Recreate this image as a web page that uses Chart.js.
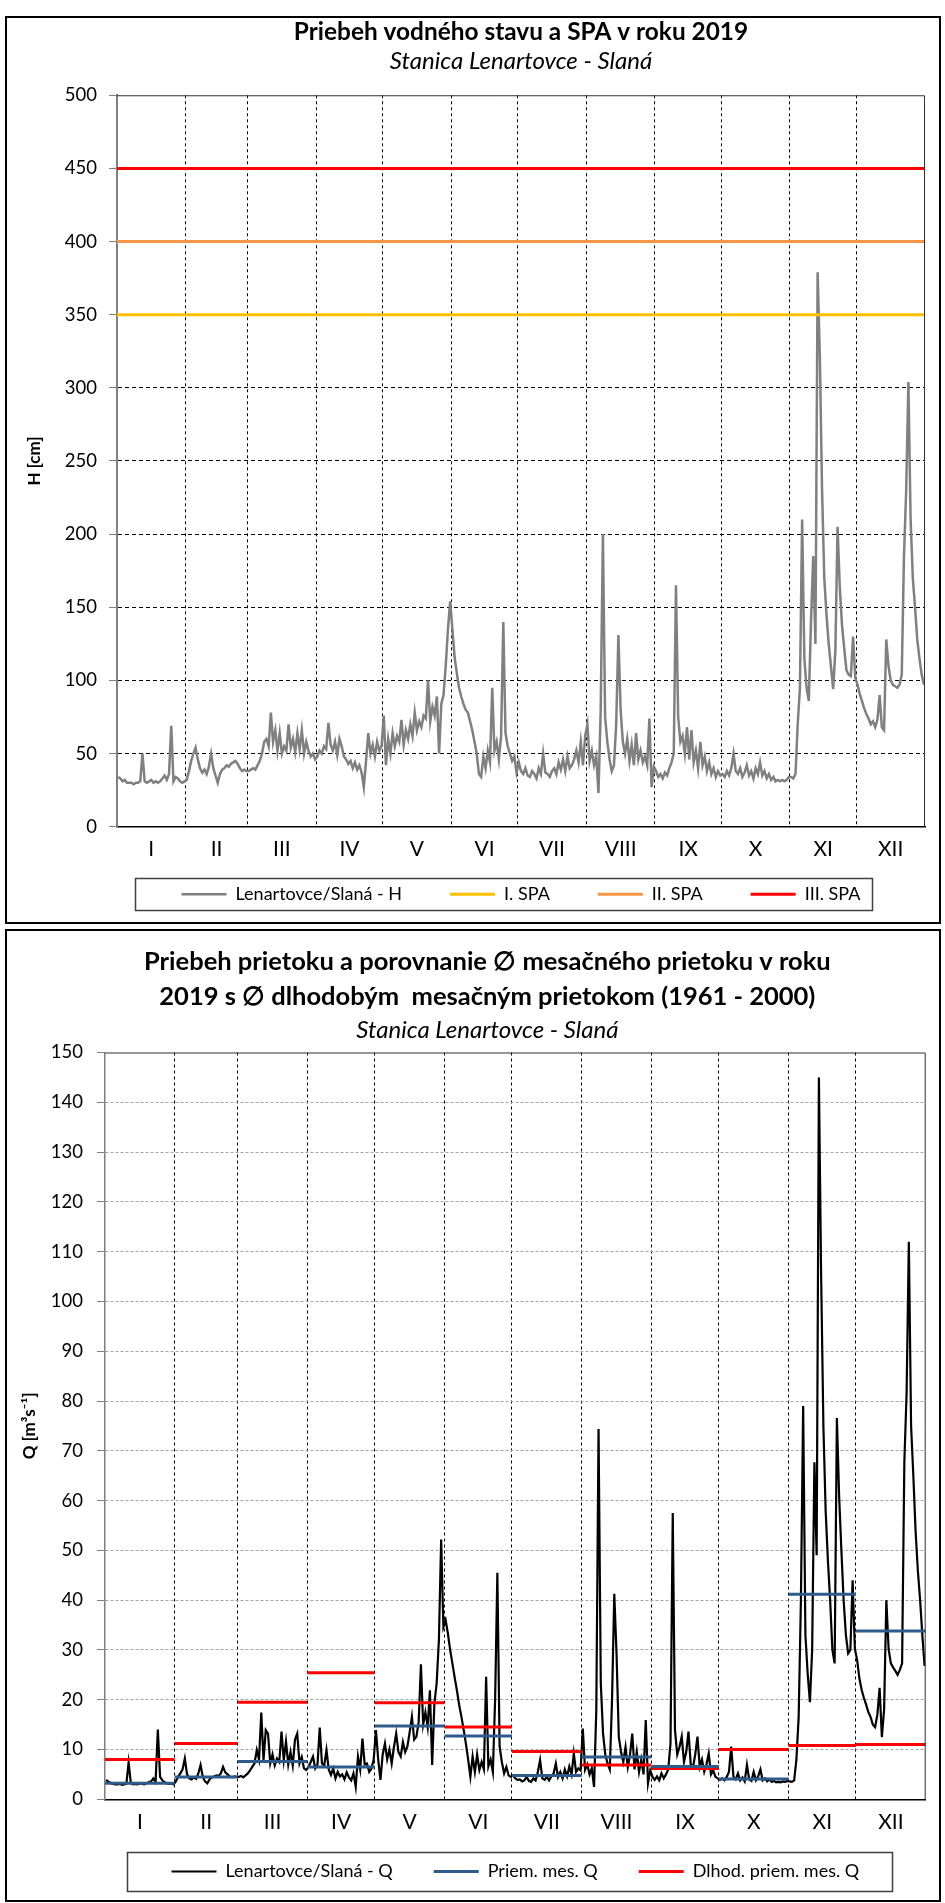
<!DOCTYPE html>
<html lang="sk">
<head>
<meta charset="utf-8">
<title>Lenartovce - Slaná 2019</title>
<script src="https://cdn.jsdelivr.net/npm/chart.js@4.4.1/dist/chart.umd.min.js"></script>
<style>
  body { margin: 0; background: #fff; }
  .box { position: absolute; left: 5px; width: 932px; border: 2px solid #000; background: #fff; }
  #box1 { top: 16px; height: 904px; }
  #box2 { top: 929px; height: 969px; }
  canvas { display: block; }
</style>
</head>
<body>
<div class="box" id="box1"><canvas id="levelChart" width="932" height="904"></canvas></div>
<div class="box" id="box2"><canvas id="flowChart" width="932" height="969"></canvas></div>
<script>
const monthLabels = ["I", "II", "III", "IV", "V", "VI", "VII", "VIII", "IX", "X", "XI", "XII"];
const monthDays = [31, 28, 31, 30, 31, 30, 31, 31, 30, 31, 30, 31];

// vodny stav H [cm], denne hodnoty 2019
const hLevel = [
  34, 33, 31, 32, 30, 30, 30, 29, 30, 30, 31, 50, 31, 30, 31, 32, 30, 31, 30, 31, 33, 35, 32, 36, 69, 31, 34, 33, 31, 30, 31,
  32, 38, 45, 50, 54, 46, 40, 37, 39, 36, 41, 50, 40, 35, 30, 36, 39, 40, 42, 41, 43, 44, 45, 43, 40, 38, 39, 38,
  38, 39, 40, 39, 42, 45, 50, 58, 60, 55, 78, 58, 66, 52, 64, 50, 55, 52, 70, 54, 60, 51, 64, 53, 66, 50, 58, 52, 48, 50, 46,
  48, 52, 50, 55, 53, 71, 56, 52, 58, 49, 60, 55, 48, 46, 43, 45, 40, 44, 39, 42, 37, 27, 45, 64, 50, 56, 48, 58, 52, 55,
  76, 42, 60, 50, 64, 55, 62, 58, 73, 56, 66, 60, 70, 62, 78, 66, 72, 68, 76, 74, 100, 72, 82, 76, 89, 50, 84, 90, 110, 135, 154,
  135, 116, 105, 95, 89, 84, 80, 78, 72, 66, 58, 50, 36, 34, 48, 40, 52, 44, 95, 52, 58, 46, 62, 140, 64, 55, 50, 45, 48, 37,
  44, 38, 36, 40, 35, 34, 38, 36, 33, 40, 36, 50, 37, 36, 34, 38, 40, 36, 44, 39, 46, 38, 48, 40, 42, 46, 52, 44, 58, 42, 62,
  70, 45, 52, 42, 48, 23, 80, 200, 75, 58, 46, 38, 42, 70, 131, 80, 58, 50, 60, 45, 56, 42, 64, 46, 52, 44, 48, 42, 74, 27, 41,
  38, 34, 36, 33, 37, 35, 40, 44, 50, 165, 75, 58, 62, 50, 68, 46, 66, 44, 52, 40, 58, 42, 48, 38, 44, 36, 40, 34, 38, 35,
  36, 34, 38, 35, 40, 50, 38, 36, 40, 34, 37, 42, 35, 38, 33, 40, 36, 44, 35, 38, 33, 36, 32, 34, 31, 32, 31, 32, 31, 32, 34,
  34, 33, 36, 70, 95, 210, 115, 95, 86, 140, 185, 125, 379, 321, 230, 170, 145, 125, 110, 94, 120, 205, 164, 138, 122, 107, 104, 103, 130, 102,
  97, 91, 86, 81, 77, 74, 70, 72, 68, 73, 90, 68, 66, 128, 110, 100, 97, 96, 95, 97, 104, 185, 230, 304, 210, 170, 150, 128, 115, 104, 97
];

// prietok Q [m3/s], denne hodnoty 2019
const qFlow = [
  3.9, 3.5, 3.3, 3.1, 3.0, 3.0, 3.1, 2.9, 3.0, 3.1, 7.4, 3.2, 3.0, 3.1, 3.0, 3.2, 3.1, 3.0, 3.2, 3.4, 3.6, 4.2, 3.5, 14.0, 4.5, 3.8, 3.4, 3.2, 3.1, 3.2, 3.0,
  3.6, 4.5, 5.2, 6.0, 8.2, 5.0, 4.2, 4.0, 4.4, 4.1, 5.2, 6.9, 4.5, 3.6, 3.2, 4.0, 4.4, 4.6, 4.8, 4.7, 5.2, 6.5, 5.4, 5.0, 4.6, 4.4, 4.6, 4.5,
  4.5, 4.7, 4.4, 4.8, 5.2, 5.8, 6.5, 7.2, 9.9, 8.0, 17.4, 7.9, 13.9, 13.2, 7.2, 9.0, 6.8, 8.2, 7.5, 13.6, 7.9, 11.6, 7.0, 9.5, 6.8, 12.0, 13.2, 7.2, 8.5, 6.2, 5.9,
  6.5, 7.5, 8.6, 6.2, 7.0, 14.4, 7.2, 6.8, 9.9, 6.0, 4.9, 6.2, 4.2, 5.5, 4.6, 5.0, 4.0, 5.4, 4.4, 3.8, 5.2, 2.5, 8.6, 6.0, 12.2, 7.0, 7.2, 5.5, 6.2, 8.0,
  13.9, 8.0, 3.9, 9.0, 11.2, 8.0, 10.0, 7.2, 10.5, 13.2, 9.5, 8.6, 11.5, 9.5, 10.6, 13.5, 16.6, 12.0, 12.6, 15.5, 27.1, 15.0, 17.5, 14.5, 21.9, 6.9, 19.3, 23.3, 32.0, 52.2, 34.6,
  36.0, 33.3, 30.0, 27.3, 24.5, 21.9, 19.0, 16.6, 14.0, 11.2, 8.0, 4.5, 8.6, 5.5, 9.0, 5.9, 7.5, 6.0, 24.6, 6.6, 8.0, 5.5, 20.0, 45.5, 10.6, 7.5, 5.2, 6.5, 4.8, 4.5,
  4.8, 4.2, 3.9, 4.0, 3.6, 3.8, 4.5, 3.7, 3.5, 4.2, 3.8, 5.5, 7.9, 4.2, 3.9, 4.5, 3.8, 4.6, 5.2, 7.2, 4.5, 5.5, 4.2, 6.0, 4.6, 6.6, 5.0, 9.2, 5.5, 6.2, 5.8,
  14.2, 5.9, 7.0, 5.0, 6.2, 2.5, 17.9, 74.4, 23.3, 13.2, 9.0, 7.2, 6.0, 20.0, 41.3, 29.3, 12.6, 9.5, 7.5, 10.5, 6.5, 9.0, 13.2, 6.0, 9.5, 5.5, 8.0, 5.0, 15.9, 3.2, 5.8,
  4.5, 3.9, 4.6, 3.8, 5.2, 4.2, 5.0, 6.0, 11.2, 57.5, 13.9, 9.0, 10.5, 12.6, 7.5, 9.5, 13.6, 7.0, 6.4, 9.0, 12.6, 6.5, 8.0, 5.5, 7.0, 9.2, 5.0, 5.8, 4.5, 4.2,
  3.9, 4.2, 3.8, 4.5, 5.5, 10.6, 4.5, 4.0, 5.2, 3.8, 4.4, 3.6, 6.9, 4.0, 3.7, 5.5, 3.8, 4.6, 6.0, 3.8, 4.2, 3.6, 4.0, 3.5, 3.7, 3.4, 3.5, 3.4, 3.6, 3.5, 3.7,
  3.6, 3.5, 3.8, 8.0, 16.5, 40.0, 79.0, 33.0, 25.3, 19.5, 30.0, 67.7, 49.0, 145.0, 105.0, 75.0, 58.0, 48.0, 40.0, 30.0, 27.3, 76.6, 60.8, 50.0, 40.0, 33.0, 29.3, 30.0, 44.0, 30.2,
  28.0, 24.3, 22.0, 20.4, 19.0, 17.5, 16.5, 15.0, 14.5, 17.0, 22.4, 12.5, 18.0, 40.0, 30.2, 27.3, 26.5, 25.8, 25.0, 26.0, 27.3, 67.7, 81.5, 112.0, 75.0, 65.0, 53.9, 46.0, 40.1, 33.0, 26.8
];

const spaNames = ["I. SPA", "II. SPA", "III. SPA"];
const spaLevels = [350, 400, 450];

// priemerny mesacny prietok 2019 a dlhodoby priemer 1961 - 2000
const qMonthMean = [3.2, 4.5, 7.6, 6.5, 14.7, 12.7, 4.8, 8.5, 6.6, 4.1, 41.2, 33.8];
const qLongMean = [8.0, 11.2, 19.5, 25.4, 19.4, 14.5, 9.6, 6.9, 6.2, 10.0, 10.8, 11.0];

const FONT = "Lato, 'Open Sans', sans-serif";
Chart.defaults.font.family = FONT;
Chart.defaults.color = "#000";

const monthStart = [];
let yearDays = 0;
monthDays.forEach(d => { monthStart.push(yearDays); yearDays += d; });
const monthMid = monthStart.map((s, i) => s + monthDays[i] / 2);
const boundaries = monthStart.concat([yearDays]);
const tickDays = boundaries.concat(monthMid).sort((a, b) => a - b);

function daily(values) {
  return values.map((v, i) => ({ x: i + 0.5, y: v }));
}
function monthSteps(values) {
  let pts = [];
  values.forEach((v, i) => {
    let end = monthStart[i] + monthDays[i];
    pts.push({ x: monthStart[i], y: v }, { x: end, y: v }, { x: end, y: null });
  });
  return pts;
}

const clear = "rgba(0,0,0,0)";

function monthAxis(pad) {
  return {
    type: "linear",
    min: 0,
    max: yearDays,
    afterBuildTicks: s => { s.ticks = tickDays.map(v => ({ value: v })); },
    afterFit: s => { s.height = 40; },
    ticks: {
      autoSkip: false, maxRotation: 0, padding: pad,
      font: { size: 21 },
      callback: v => { let i = monthMid.indexOf(v); return i < 0 ? "" : monthLabels[i]; }
    },
    grid: {
      drawTicks: false, lineWidth: 1,
      color: c => (c.tick && c.tick.value > 0 && c.tick.value < yearDays && boundaries.indexOf(c.tick.value) >= 0) ? "#000" : clear
    },
    border: { color: "#000", width: 1.5, dash: [3, 3] }
  };
}

const plotFrame = {
  id: "plotFrame",
  afterDatasetsDraw(chart) {
    const a = chart.chartArea, ctx = chart.ctx;
    ctx.save();
    ctx.strokeStyle = "#303030";
    ctx.lineWidth = 1;
    ctx.beginPath();
    ctx.moveTo(a.left, a.top + 0.5);
    ctx.lineTo(a.right - 0.5, a.top + 0.5);
    ctx.lineTo(a.right - 0.5, a.bottom);
    ctx.stroke();
    ctx.restore();
  }
};

// legenda pod osou x: posun na pozadovanu vysku
const legendPlace = {
  id: "legendPlace",
  afterLayout(chart, args, opts) {
    const lg = chart.legend;
    const top = opts.itemCenter - opts.fontSize / 2 - opts.padding;
    lg.top = top;
    lg.bottom = top + opts.padding + opts.fontSize + 10;
    lg.height = lg.bottom - lg.top;
  }
};

const legendFrame = {
  id: "legendFrame",
  afterDraw(chart, args, opts) {
    const boxes = chart.legend.legendHitBoxes;
    if (!boxes || !boxes.length) return;
    const left = Math.min(...boxes.map(b => b.left)) - opts.padLeft;
    const right = Math.max(...boxes.map(b => b.left + b.width)) + opts.padRight;
    const top = boxes[0].top - opts.padY;
    const bottom = boxes[0].top + boxes[0].height + opts.padY;
    const ctx = chart.ctx;
    ctx.save();
    ctx.strokeStyle = "#404040";
    ctx.lineWidth = 1.5;
    ctx.strokeRect(Math.round(left) + 0.5, Math.round(top) + 0.5, Math.round(right - left), Math.round(bottom - top));
    ctx.restore();
  }
};

const bySeries = (a, b) => a.datasetIndex - b.datasetIndex;

// graf 1: vodny stav a SPA
const spaColors = ["#FFC000", "#F79646", "#FF0000"];
new Chart(document.getElementById("levelChart"), {
  type: "line",
  data: {
    datasets: [
      { label: "Lenartovce/Slaná - H", data: daily(hLevel), borderColor: "#808080", backgroundColor: "#808080", borderWidth: 2.5, pointRadius: 0, order: 2 }
    ].concat(spaLevels.map((v, i) => ({
      label: spaNames[i],
      data: [{ x: 0, y: v }, { x: yearDays, y: v }],
      borderColor: spaColors[i], backgroundColor: spaColors[i], borderWidth: 3, pointRadius: 0, order: 1
    })))
  },
  options: {
    responsive: false,
    animation: false,
    devicePixelRatio: 1,
    layout: { padding: { left: 0, right: 14, top: 0, bottom: 25.3 } },
    plugins: {
      title: { display: true, fullSize: false, text: "Priebeh vodného stavu a SPA v roku 2019", font: { size: 24.4, weight: "bold" }, padding: { top: 0, bottom: 0 } },
      subtitle: { display: true, fullSize: false, text: "Stanica Lenartovce - Slaná", font: { size: 24, style: "italic", weight: "normal", lineHeight: 1 }, padding: { top: 2, bottom: 22 } },
      legend: {
        position: "bottom", fullSize: false, maxHeight: 30,
        labels: { usePointStyle: true, pointStyle: "line", pointStyleWidth: 45, padding: 48, font: { size: 18 }, sort: bySeries }
      },
      legendPlace: { itemCenter: 876.3, fontSize: 18, padding: 48 },
      legendFrame: { padLeft: 47, padRight: 11, padY: 7 },
      tooltip: { enabled: false }
    },
    scales: {
      x: monthAxis(10),
      y: {
        min: 0, max: 500,
        afterFit: s => { s.width = 110; },
        ticks: { stepSize: 50, padding: 12, font: { size: 18.5 } },
        grid: {
          color: c => (c.tick && c.tick.value > 0 && c.tick.value < 500) ? "#000" : clear,
          tickColor: "#808080", tickLength: 8, tickWidth: 1, tickBorderDash: [], lineWidth: 1
        },
        border: { color: "#808080", width: 2, dash: [4, 3] },
        title: { display: true, text: "H [cm]", font: { size: 17, weight: "bold" }, padding: { top: 17, bottom: 0 } }
      }
    }
  },
  plugins: [plotFrame, legendPlace, legendFrame]
});

// graf 2: prietok a mesacne priemery
new Chart(document.getElementById("flowChart"), {
  type: "line",
  data: {
    datasets: [
      { label: "Lenartovce/Slaná - Q", data: daily(qFlow), borderColor: "#000", backgroundColor: "#000", borderWidth: 2.2, pointRadius: 0, order: 2 },
      { label: "Priem. mes. Q", data: monthSteps(qMonthMean), borderColor: "#2F5A8C", backgroundColor: "#2F5A8C", borderWidth: 3, pointRadius: 0, spanGaps: false, order: 1 },
      { label: "Dlhod. priem. mes. Q", data: monthSteps(qLongMean), borderColor: "#FF0000", backgroundColor: "#FF0000", borderWidth: 3, pointRadius: 0, spanGaps: false, order: 1 }
    ]
  },
  options: {
    responsive: false,
    animation: false,
    devicePixelRatio: 1,
    layout: { padding: { left: 42, right: 13.3, top: 0, bottom: 30.7 } },
    plugins: {
      title: {
        display: true,
        text: ["Priebeh prietoku a porovnanie \u2205 mesačného prietoku v roku", "2019 s \u2205 dlhodobým  mesačným prietokom (1961 - 2000)"],
        font: { size: 25.5, weight: "bold", lineHeight: "35px" }, padding: { top: 13.5, bottom: 0 }
      },
      subtitle: { display: true, text: "Stanica Lenartovce - Slaná", font: { size: 24, style: "italic", weight: "normal", lineHeight: 1 }, padding: { top: 3.5, bottom: 10.5 } },
      legend: {
        position: "bottom", fullSize: false, maxHeight: 30,
        labels: { usePointStyle: true, pointStyle: "line", pointStyleWidth: 45, padding: 41, font: { size: 18 }, sort: bySeries }
      },
      legendPlace: { itemCenter: 940.5, fontSize: 18, padding: 41 },
      legendFrame: { padLeft: 44, padRight: 33, padY: 10.5 },
      tooltip: { enabled: false }
    },
    scales: {
      x: monthAxis(10.7),
      y: {
        min: 0, max: 150,
        afterFit: s => { s.width = 56; },
        ticks: { stepSize: 10, padding: 14, font: { size: 18.5 } },
        grid: {
          color: c => (c.tick && c.tick.value > 0 && c.tick.value < 150) ? "#A6A6A6" : clear,
          tickColor: "#808080", tickLength: 8, tickWidth: 1, tickBorderDash: [], lineWidth: 1
        },
        border: { color: "#808080", width: 1.5, dash: [3, 2] },
        title: { display: true, text: "Q [m³s⁻¹]", font: { size: 17, weight: "bold" }, padding: { top: -29.2, bottom: 0 } }
      }
    }
  },
  plugins: [plotFrame, legendPlace, legendFrame]
});
</script>
</body>
</html>
